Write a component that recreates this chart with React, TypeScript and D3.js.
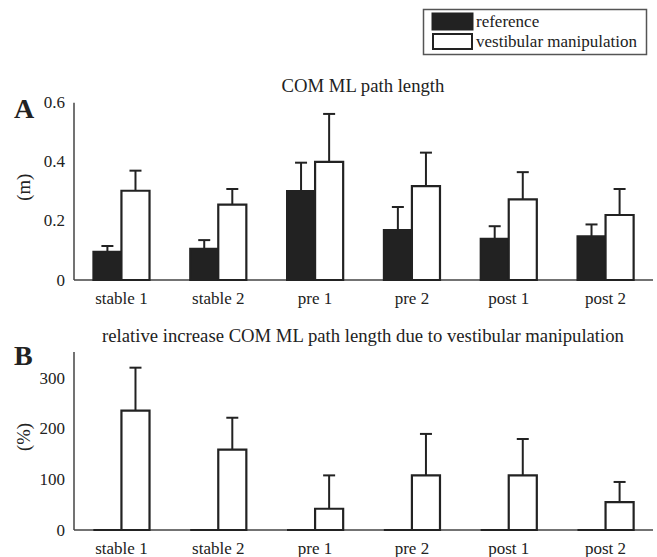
import React from "react";
import * as d3 from "d3";

const categories = ["stable 1", "stable 2", "pre 1", "pre 2", "post 1", "post 2"];
const seriesKeys = ["reference", "vestibular manipulation"];

const refMeanA = [0.096, 0.106, 0.301, 0.169, 0.14, 0.148];
const refSdA = [0.019, 0.029, 0.096, 0.078, 0.042, 0.04];
const vestMeanA = [0.302, 0.255, 0.4, 0.318, 0.273, 0.22];
const vestSdA = [0.068, 0.053, 0.162, 0.113, 0.092, 0.088];

const refMeanB = [0, 0, 0, 0, 0, 0];
const vestMeanB = [236, 159, 42, 108, 108, 55];
const vestSdB = [85, 63, 66, 82, 72, 40];

const ticksA = [0, 0.2, 0.4, 0.6];
const ticksB = [0, 100, 200, 300];

const W = 657;
const H = 557;
const FONT = "'Liberation Serif', 'Times New Roman', serif";
const DARK = "#222";
const AXIS = "#444";

type PanelProps = {
  top: number;
  bottom: number;
  yMax: number;
  ticks: number[];
  tickFmt: (v: number) => string;
  refMean: number[];
  refSd: number[] | null;
  vestMean: number[];
  vestSd: number[];
  title: string;
  titleY: number;
  yLabel: string;
  letter: string;
  letterY: number;
  xLabelY: number;
};

const left = 74;
const right = 653;

function Panel(p: PanelProps) {
  const x0 = d3.scaleBand<string>().domain(categories).range([left, right]).paddingInner(0.42).paddingOuter(0.2);
  const x1 = d3.scaleBand<string>().domain(seriesKeys).range([0, x0.bandwidth()]);
  const y = d3.scaleLinear().domain([0, p.yMax]).range([p.bottom, p.top]);
  const capW = 12;

  return (
    <g>
      <text x={363} y={p.titleY} textAnchor="middle" fontSize={18.7} fill={DARK} fontFamily={FONT}>
        {p.title}
      </text>
      <text x={14} y={p.letterY} fontSize={28} fontWeight="bold" fill={DARK} fontFamily={FONT}>
        {p.letter}
      </text>
      <text
        transform={`translate(${30},${(p.top + p.bottom) / 2 - 4}) rotate(-90)`}
        textAnchor="middle"
        fontSize={18.7}
        fill={DARK}
        fontFamily={FONT}
      >
        {p.yLabel}
      </text>
      {p.ticks.map((t) => (
        <text
          key={t}
          x={65}
          y={y(t)}
          textAnchor="end"
          dominantBaseline="central"
          fontSize={17}
          fill={DARK}
          fontFamily={FONT}
        >
          {p.tickFmt(t)}
        </text>
      ))}
      {categories.map((c) => (
        <text
          key={c}
          x={(x0(c) as number) + x0.bandwidth() / 2}
          y={p.xLabelY}
          textAnchor="middle"
          fontSize={17}
          fill={DARK}
          fontFamily={FONT}
        >
          {c}
        </text>
      ))}
      <line x1={left} x2={left} y1={p.top} y2={p.bottom} stroke={AXIS} strokeWidth={1.5} />
      <line x1={left} x2={right} y1={p.bottom} y2={p.bottom} stroke={AXIS} strokeWidth={1.5} />
      {categories.map((c, i) => {
        const gx = x0(c) as number;
        const rx = gx + (x1(seriesKeys[0]) as number);
        const vx = gx + (x1(seriesKeys[1]) as number);
        const bw = x1.bandwidth();
        const rTop = y(p.refMean[i]);
        const vTop = y(p.vestMean[i]);
        const vErr = y(p.vestMean[i] + p.vestSd[i]);
        const rErr = p.refSd ? y(p.refMean[i] + p.refSd[i]) : null;
        const rPath = `M${rx},${p.bottom}V${rTop}H${rx + bw}V${p.bottom}Z`;
        const vPath = `M${vx},${p.bottom}V${vTop}H${vx + bw}V${p.bottom}Z`;
        return (
          <g key={c}>
            {p.refSd && rErr !== null && (
              <g stroke={DARK} strokeWidth={2}>
                <line x1={rx + bw / 2} x2={rx + bw / 2} y1={rTop} y2={rErr} />
                <line x1={rx + bw / 2 - capW / 2} x2={rx + bw / 2 + capW / 2} y1={rErr} y2={rErr} />
              </g>
            )}
            <g stroke={DARK} strokeWidth={2}>
              <line x1={vx + bw / 2} x2={vx + bw / 2} y1={vTop} y2={vErr} />
              <line x1={vx + bw / 2 - capW / 2} x2={vx + bw / 2 + capW / 2} y1={vErr} y2={vErr} />
            </g>
            <path d={rPath} fill={DARK} stroke={DARK} strokeWidth={2} strokeLinejoin="miter" />
            <path d={vPath} fill="#fff" stroke={DARK} strokeWidth={2.2} strokeLinejoin="miter" />
          </g>
        );
      })}
    </g>
  );
}

export default function App() {
  return (
    <svg
      width={W}
      height={H}
      viewBox={`0 0 ${W} ${H}`}
      style={{ position: "absolute", left: 0, top: 0, background: "#fff" }}
    >
      <rect x={0} y={0} width={W} height={H} fill="#fff" />
      <g fontFamily={FONT} fontSize={17} fill={DARK}>
        <rect x={423.5} y={9.5} width={223} height={45} fill="#fff" stroke="#555" strokeWidth={1.5} />
        <rect x={432} y={13} width={41} height={17} fill={DARK} stroke={DARK} strokeWidth={1} />
        <rect x={433} y={34} width={39} height={15} fill="#fff" stroke={DARK} strokeWidth={2} />
        <text x={476} y={27}>{seriesKeys[0]}</text>
        <text x={476} y={47}>{seriesKeys[1]}</text>
      </g>
      <Panel
        top={102.7}
        bottom={280}
        yMax={0.6}
        ticks={ticksA}
        tickFmt={(v) => (v === 0 ? "0" : d3.format(".1f")(v))}
        refMean={refMeanA}
        refSd={refSdA}
        vestMean={vestMeanA}
        vestSd={vestSdA}
        title="COM ML path length"
        titleY={92}
        yLabel="(m)"
        letter="A"
        letterY={118}
        xLabelY={304}
      />
      <Panel
        top={352}
        bottom={530}
        yMax={352}
        ticks={ticksB}
        tickFmt={(v) => String(v)}
        refMean={refMeanB}
        refSd={null}
        vestMean={vestMeanB}
        vestSd={vestSdB}
        title="relative increase COM ML path length due to vestibular manipulation"
        titleY={342}
        yLabel="(%)"
        letter="B"
        letterY={365}
        xLabelY={554}
      />
    </svg>
  );
}
